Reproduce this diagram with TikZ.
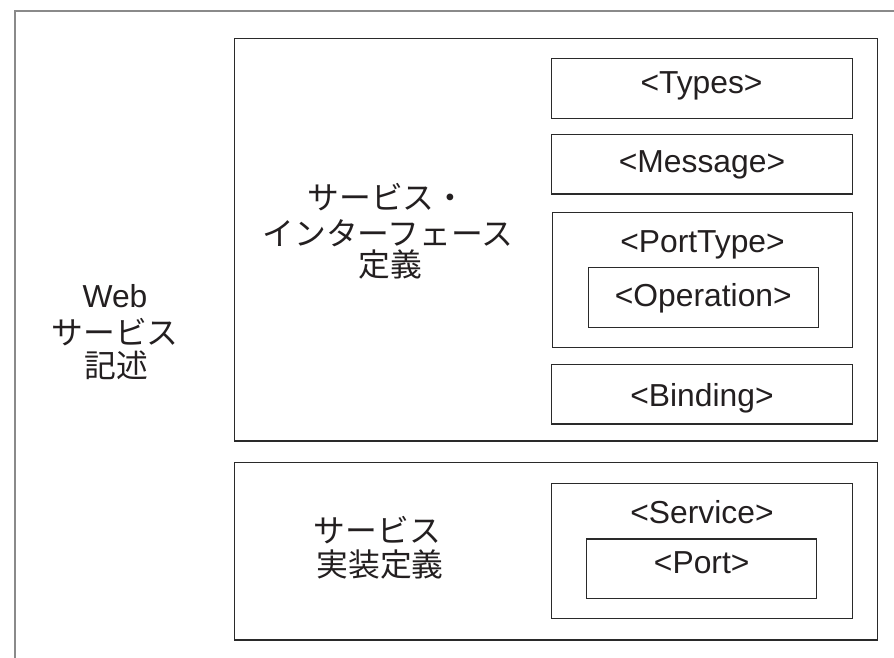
\documentclass[tikz,border=0pt]{standalone}
\usepackage{fontspec}
\setmainfont{Liberation Sans}
\newfontfamily\jp{Noto Sans CJK JP}
\definecolor{linec}{HTML}{2A2A2A}
\definecolor{framec}{HTML}{8A8A8A}
\definecolor{textc}{HTML}{231F20}
\begin{document}
\begin{tikzpicture}[x=1pt,y=-1pt,
  box/.style={draw=linec, line width=1.2pt, inner sep=0pt, outer sep=0pt},
  txt/.style={text=textc, inner sep=0pt, outer sep=0pt, font=\fontsize{31.8}{36}\selectfont},
  jtxt/.style={text=textc, inner sep=0pt, outer sep=0pt, font=\fontsize{31.8}{36}\selectfont\jp},
  frame/.style={draw=framec, line width=2pt}]
\useasboundingbox (0,0) rectangle (894,658);
% outer frame (only top and left edges visible)
\coordinate (fbl) at (15,658);
\coordinate (ftl) at (15,10.7);
\coordinate (ftr) at (894,10.7);
\draw[frame] (fbl) -- (ftl) -- (ftr);
% big boxes
\node[box, minimum width=643.4, minimum height=402.7] (iface) at (556,239.65) {};
\node[box, minimum width=643.4, minimum height=177.7] (impl) at (556,551.15) {};
% inner boxes
\node[box, minimum width=300.6, minimum height=60] (types) at (702,88.3) {};
\node[box, minimum width=300.6, minimum height=59.7] (message) at (702,164.2) {};
\node[box, minimum width=300.6, minimum height=135.4] (porttype) at (702.5,280) {};
\node[box, minimum width=230, minimum height=60] (operation) at (703.3,297.7) {};
\node[box, minimum width=300.6, minimum height=59.7] (binding) at (702,394.2) {};
\node[box, minimum width=300.6, minimum height=135] (service) at (702,550.8) {};
\node[box, minimum width=230, minimum height=59.7] (port) at (701.7,568.9) {};
% labels
\node[txt, anchor=base] (typesT) at (701.5,93.3) {<Types>};
\node[txt, anchor=base] (messageT) at (702,172.7) {<Message>};
\node[txt, anchor=base] (porttypeT) at (702.5,252) {<PortType>};
\node[txt, anchor=base] (operationT) at (703.3,306.7) {<Operation>};
\node[txt, anchor=base] (bindingT) at (702,406.7) {<Binding>};
\node[txt, anchor=base] (serviceT) at (702,523) {<Service>};
\node[txt, anchor=base] (portT) at (701.7,573.3) {<Port>};
% Japanese labels
\node[jtxt] (if1) at (387,197.3) {サービス・};
\node[jtxt] (if2) at (388,233) {インターフェース};
\node[jtxt] (if3) at (390,264.7) {定義};
\node[txt, anchor=base] (web1) at (115,307.7) {Web};
\node[jtxt] (web2) at (115,331.7) {サービス};
\node[jtxt] (web3) at (116,365.2) {記述};
\node[jtxt] (im1) at (377.5,530) {サービス};
\node[jtxt] (im2) at (380,564) {実装定義};
\end{tikzpicture}
\end{document}
